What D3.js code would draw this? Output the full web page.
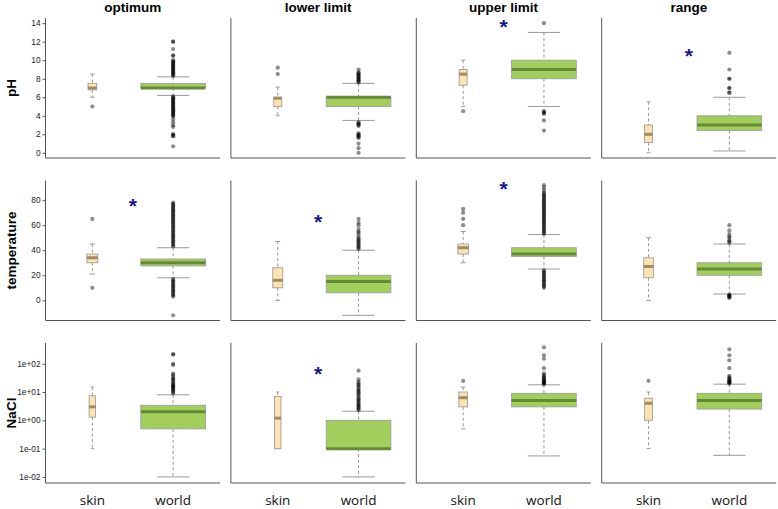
<!DOCTYPE html>
<html><head><meta charset="utf-8">
<script src="https://cdn.jsdelivr.net/npm/d3@7/dist/d3.min.js"></script>
<style>body{margin:0;background:#fff}svg{display:block}</style>
</head><body>
<svg id="chart" width="778" height="509"></svg>
<script>
// ---------- data ----------
const measures = ["pH", "temperature", "NaCl"];
const limits = ["optimum", "lower limit", "upper limit", "range"];
const groups = ["skin", "world"];

// y tick values per measure
const pHTicks = [0, 2, 4, 6, 8, 10, 12, 14];
const tempTicks = [0, 20, 40, 60, 80];
const naclTicks = [0.01, 0.1, 1, 10, 100];

// data range per measure (before 4% padding); NaCl on log scale
const pHRange = [0, 14];
const tempRange = [-12, 91.6];
const naclRange = [0.0093, 355];

// sample sizes (drive box widths, varwidth)
const skinN = [[90, 76, 76, 76], [145, 119, 136, 112], [50, 50, 90, 72]];
const worldN = [[5000, 5000, 5000, 5000], [5000, 5000, 5000, 5000], [5000, 5000, 5000, 5000]];

// box stats: [lower whisker, Q1, median, Q3, upper whisker]
const skinStats = [
  [[6.0, 6.8, 7.0, 7.5, 8.5], [4.0, 5.0, 5.9, 6.0, 7.1], [5.0, 7.3, 8.5, 9.0, 10.0], [0.0, 1.1, 2.0, 3.0, 5.5]],
  [[21, 30, 34, 37, 45], [0, 10, 16, 26, 47], [30, 37, 42, 45, 55], [0, 18, 27, 34, 50]],
  [[0.1, 1.3, 3.0, 7.4, 15], [0.1, 0.1, 1.2, 7, 10], [0.5, 3, 6.3, 10, 15], [0.1, 1, 4, 6, 10]]
];
const worldStats = [
  [[6.2, 7.0, 7.0, 7.5, 8.2], [3.5, 5.0, 6.0, 6.0, 7.5], [5.0, 8.0, 9.0, 10.0, 13.0], [0.2, 2.4, 3.0, 4.0, 6.0]],
  [[18, 27.5, 30, 33, 42], [-12, 6, 15, 20, 40], [25, 35, 37, 42, 52.5], [5, 20, 25, 30, 45]],
  [[0.01, 0.5, 2.0, 3.4, 8], [0.01, 0.1, 0.1, 1.0, 2.1], [0.055, 3, 5, 9, 18], [0.058, 2.5, 5, 9, 19]]
];

// outliers
const skinOut = [
  [[5.0], [8.5, 9.2], [4.5], []],
  [[65, 10], [], [60, 65, 70, 73], []],
  [[], [], [25], [25]]
];
const worldOut = [
  [
    [8.3, 8.4, 8.5, 8.6, 8.7, 8.8, 8.9, 9.0, 9.1, 9.2, 9.3, 9.4, 9.5, 9.6, 9.7, 9.8, 9.9, 10.0, 10.5, 10.5, 11.2, 12.0, 12.0,
     6.1, 6.0, 5.9, 5.8, 5.7, 5.6, 5.5, 5.4, 5.3, 5.2, 5.1, 5.0, 4.9, 4.8, 4.7, 4.6, 4.5, 4.4, 4.3, 4.2, 4.1, 4.0, 3.9,
     3.6, 3.3, 3.0, 2.8, 2.0, 2.0, 1.8, 1.8, 0.7],
    [7.6, 7.7, 7.8, 7.9, 8.0, 8.1, 8.2, 8.3, 8.4, 8.5, 8.6, 8.7, 9.0,
     3.3, 3.2, 3.1, 3.0, 2.9, 2.1, 2.0, 1.9, 1.8, 1.7, 1.6, 1.0, 0.5, 0.0],
    [14.0, 4.5, 4.4, 4.3, 4.2, 3.5, 2.4],
    [6.5, 6.5, 7.0, 7.0, 8.0, 8.0, 9.0, 10.8]
  ],
  [
    [43, 44, 45, 46, 47, 48, 49, 50, 51, 52, 53, 54, 55, 56, 57, 58, 59, 60, 61, 62, 63, 64, 65, 66, 67, 68, 69, 70, 71, 72, 73, 74, 75, 76, 77, 78,
     17, 16, 15, 14, 13, 12, 11, 10, 9, 8, 7, 6, 5, 4, 3, -12],
    [41, 42, 43, 44, 45, 46, 47, 48, 49, 50, 52, 54, 55, 57, 60, 62, 65],
    [53, 54, 55, 56, 57, 58, 59, 60, 61, 62, 63, 64, 65, 66, 67, 68, 69, 70, 71, 72, 73, 74, 75, 76, 77, 78, 79, 80, 81, 82, 83, 84, 85, 86, 88, 90, 92,
     24, 23, 22, 21, 20, 19, 18, 17, 16, 15, 14, 13, 12, 11, 10],
    [46, 47, 48, 50, 51, 53, 56, 60, 4.5, 4, 3.5, 3, 2.5, 2]
  ],
  [
    [9, 10, 11, 12, 13, 14, 15, 16, 17, 18, 20, 22, 25, 28, 30, 35, 40, 45, 90, 100, 215, 215],
    [2.3, 2.5, 2.8, 3, 3.3, 3.6, 4, 4.5, 5, 5.5, 6, 7, 8, 9, 10, 11, 12, 14, 16, 18, 20, 23, 28, 57],
    [19, 20, 21, 22, 23, 24, 26, 28, 30, 33, 36, 40, 46, 70, 150, 200, 380],
    [20, 21, 22, 23, 24, 26, 28, 30, 33, 37, 70, 132, 200, 324]
  ]
];

// significance marks (skin vs world)
const significant = [[0, 0, 1, 1], [1, 1, 1, 0], [0, 1, 0, 0]];

// ---------- layout & style ----------
const svg = d3.select("#chart");
const panelW = 174.5, panelH = 140;
const colLeft = c => 45.5 + c * 185.4;
const rowTop = r => 18 + r * 162.5;
const fills = { skin: "#fde3b1", world: "#a2cf5b" };
const medCol = { skin: "#9f8c63", world: "#66883a" };
const rangesArr = [pHRange, tempRange, naclRange];
const ticksArr = [pHTicks, tempTicks, naclTicks];
const pad = 0.04;

function makeY(r) {
  const top = rowTop(r), bot = top + panelH;
  if (r === 2) {
    const l0 = Math.log10(naclRange[0]), l1 = Math.log10(naclRange[1]);
    const e = (l1 - l0) * pad;
    return d3.scaleLog().domain([Math.pow(10, l0 - e), Math.pow(10, l1 + e)]).range([bot, top]);
  }
  const [a, b] = rangesArr[r];
  const e = (b - a) * pad;
  return d3.scaleLinear().domain([a - e, b + e]).range([bot, top]);
}

const fmtExp = d => {
  const s = d.toExponential(0); // e.g. 1e+2
  return s.replace(/e([+-])(\d)$/, "e$10$2");
};

measures.forEach((m, r) => {
  const y = makeY(r);
  const top = rowTop(r);
  // row label
  svg.append("text")
    .attr("transform", `translate(16,${top + panelH / 2}) rotate(-90)`)
    .attr("text-anchor", "middle")
    .attr("font-family", "Liberation Sans, Arial, sans-serif")
    .attr("font-weight", "bold").attr("font-size", 13.5).attr("fill", "#000")
    .text(m);

  limits.forEach((lim, c) => {
    const left = colLeft(c);
    const x = d3.scaleLinear().domain([0.42, 2.58]).range([left, left + panelW]);
    const g = svg.append("g");

    if (r === 0) {
      g.append("text")
        .attr("x", left + panelW / 2).attr("y", 12)
        .attr("text-anchor", "middle")
        .attr("font-family", "Liberation Sans, Arial, sans-serif")
        .attr("font-weight", "bold").attr("font-size", 13.5).attr("fill", "#000")
        .text(lim);
    }

    // axes lines
    g.append("line").attr("x1", left).attr("x2", left).attr("y1", top).attr("y2", top + panelH)
      .attr("stroke", "#555").attr("stroke-width", 1);
    g.append("line").attr("x1", left).attr("x2", left + panelW).attr("y1", top + panelH).attr("y2", top + panelH)
      .attr("stroke", "#555").attr("stroke-width", 1);

    if (c === 0) {
      const ax = d3.axisLeft(y).tickValues(ticksArr[r]).tickSize(3).tickPadding(2)
        .tickFormat(r === 2 ? fmtExp : d3.format("d"));
      const axg = g.append("g").attr("transform", `translate(${left},0)`).call(ax);
      axg.select(".domain").remove();
      axg.selectAll("line").attr("stroke", "#555");
      axg.selectAll("text").attr("font-family", "Liberation Sans, Arial, sans-serif")
        .attr("font-size", 8.3).attr("fill", "#222");
    }

    const maxN = Math.max(skinN[r][c], worldN[r][c]);
    const info = {
      skin: { st: skinStats[r][c], out: skinOut[r][c], n: skinN[r][c], pos: 1 },
      world: { st: worldStats[r][c], out: worldOut[r][c], n: worldN[r][c], pos: 2 }
    };

    groups.forEach(grp => {
      const d = info[grp];
      const w = 0.8 * Math.sqrt(d.n / maxN);
      const cx = x(d.pos);
      const bw = x(d.pos + w / 2) - x(d.pos - w / 2);
      const [lw, q1, md, q3, hw] = d.st;
      // whiskers
      g.append("line").attr("x1", cx).attr("x2", cx).attr("y1", y(hw)).attr("y2", y(q3))
        .attr("stroke", "#8a8a8a").attr("stroke-dasharray", "3,2.5").attr("stroke-width", 0.9);
      g.append("line").attr("x1", cx).attr("x2", cx).attr("y1", y(q1)).attr("y2", y(lw))
        .attr("stroke", "#8a8a8a").attr("stroke-dasharray", "3,2.5").attr("stroke-width", 0.9);
      // staples
      [lw, hw].forEach(v => {
        g.append("line").attr("x1", cx - bw / 4).attr("x2", cx + bw / 4).attr("y1", y(v)).attr("y2", y(v))
          .attr("stroke", "#9a9a9a").attr("stroke-width", 1);
      });
      // box
      g.append("rect").attr("x", cx - bw / 2).attr("width", bw)
        .attr("y", y(q3)).attr("height", Math.max(0.5, y(q1) - y(q3)))
        .attr("fill", fills[grp]).attr("stroke", "#9e9e9e").attr("stroke-width", 0.9);
      // median
      g.append("line").attr("x1", cx - bw / 2).attr("x2", cx + bw / 2).attr("y1", y(md)).attr("y2", y(md))
        .attr("stroke", medCol[grp]).attr("stroke-width", 3);
      // outliers
      g.selectAll(null).data(d.out).enter().append("circle")
        .attr("cx", cx).attr("cy", v => y(v)).attr("r", 2.1)
        .attr("fill", "#000").attr("fill-opacity", 0.45);
    });

    // significance
    if (significant[r][c]) {
      const all = worldOut[r][c].concat([worldStats[r][c][4]]);
      const mx = d3.max(all);
      const fs = 21;
      g.append("text").attr("x", x(1.5)).attr("y", y(mx) + 0.5 * fs)
        .attr("text-anchor", "middle")
        .attr("font-family", "Liberation Sans, Arial, sans-serif")
        .attr("font-weight", "bold").attr("font-size", fs).attr("fill", "#16168a")
        .text("*");
    }

    // x labels on bottom row
    if (r === measures.length - 1) {
      groups.forEach((grp, i) => {
        g.append("text").attr("x", x(i + 1)).attr("y", 504.5)
          .attr("text-anchor", "middle")
          .attr("font-family", "Open Sans, sans-serif")
          .attr("font-size", 13.5).attr("fill", "#111")
          .text(grp);
      });
    }
  });
});
</script>
</body></html>
